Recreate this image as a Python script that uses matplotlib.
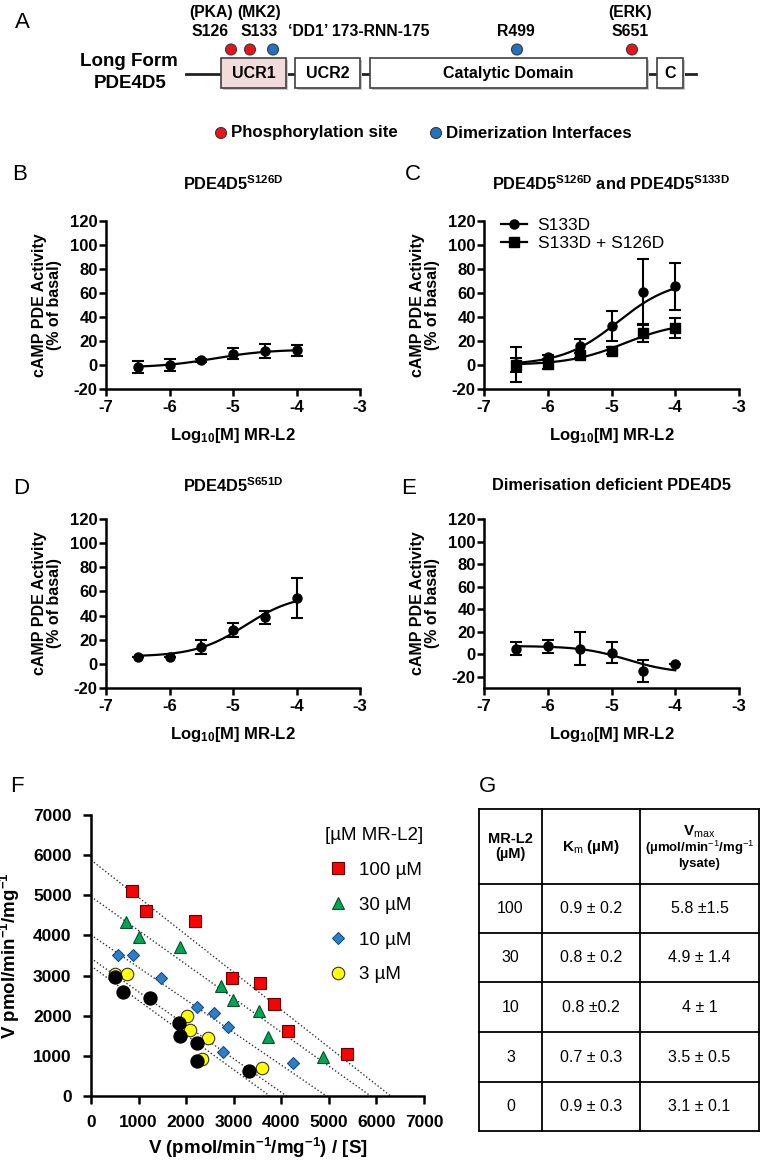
import numpy as np
import matplotlib
matplotlib.use('Agg')
import matplotlib.pyplot as plt
from matplotlib.patches import Rectangle, Circle
from matplotlib.lines import Line2D

plt.rcParams['font.family'] = ['Liberation Sans', 'DejaVu Sans']
plt.rcParams['mathtext.fontset'] = 'custom'
plt.rcParams['mathtext.rm'] = 'Liberation Sans'
plt.rcParams['mathtext.bf'] = 'Liberation Sans:bold'
plt.rcParams['mathtext.it'] = 'Liberation Sans:italic'
plt.rcParams['axes.unicode_minus'] = False

# ---------------- data ----------------
# Panel A (schematic)
domain_names = ['UCR1', 'UCR2', 'Catalytic Domain', 'C']
site_labels = ['S126', 'S133', '\u2018DD1\u2019 173-RNN-175', 'R499', 'S651']
kinase_labels = ['(PKA)', '(MK2)', '', '', '(ERK)']
site_types = ['phos', 'phos', 'dimer', 'dimer', 'phos']

# Panels B-E (dose response)
log_conc = [-6.5, -6.0, -5.5, -5.0, -4.5, -4.0]
b_mean = [-1.7, 0.0, 3.9, 9.4, 11.6, 12.2]
b_err = [4.8, 4.8, 1.0, 4.8, 5.5, 4.8]
b_fit = dict(start=-2.2, end=13.0, logec50=-5.3, hill=1.0)

c1_mean = [0.5, 6.5, 16.0, 32.5, 61.0, 65.5]
c1_err = [14.5, 2.0, 6.0, 12.5, 27.0, 19.5]
c1_fit = dict(start=0.0, end=72.0, logec50=-4.9, hill=1.0)
c2_mean = [0.0, 1.0, 8.0, 12.0, 26.5, 31.0]
c2_err = [6.0, 4.0, 2.0, 3.0, 7.0, 8.5]
c2_fit = dict(start=0.0, end=36.0, logec50=-4.8, hill=1.0)

d_mean = [6.0, 5.5, 14.0, 28.0, 38.5, 54.5]
d_err = [0.0, 0.0, 5.5, 6.0, 5.5, 16.5]
d_fit = dict(start=6.0, end=58.0, logec50=-4.8, hill=1.1)

e_mean = [5.0, 7.0, 5.0, 1.5, -14.8, -9.0]
e_err = [6.0, 6.0, 15.0, 9.0, 10.0, 0.0]
e_fit = dict(start=7.3, end=-17.0, logec50=-4.75, hill=1.2)

# Panel F (Eadie-Hofstee)
f_labels = ['100 \u00b5M', '30 \u00b5M', '10 \u00b5M', '3 \u00b5M', '0']
f_x = [
    [860, 1154, 2189, 2972, 3552, 3846, 4147, 5371],
    [727, 1000, 1874, 2741, 2979, 3538, 3713, 4881],
    [573, 881, 1476, 2224, 2594, 2888, 2783, 4238],
    [510, 755, 2028, 2084, 2462, 2329, 3587],
    [497, 664, 1231, 1853, 1881, 2224, 2238, 3329],
]
f_y = [
    [5116, 4610, 4360, 2948, 2824, 2292, 1620, 1047],
    [4344, 3970, 3721, 2741, 2392, 2118, 1478, 980],
    [3513, 3505, 2948, 2209, 2060, 1728, 1105, 831],
    [3040, 3032, 1993, 1645, 1453, 914, 689],
    [2957, 2583, 2434, 1827, 1495, 1312, 872, 631],
]
f_yint = [5880, 4967, 4012, 3430, 3239]
f_xint = [6300, 5880, 4950, 4110, 3760]

# Panel G (table)
g_mrl2 = ['100', '30', '10', '3', '0']
g_km = ['0.9 \u00b1 0.2', '0.8 \u00b1 0.2', '0.8 \u00b10.2', '0.7 \u00b1 0.3', '0.9 \u00b1 0.3']
g_vmax = ['5.8 \u00b11.5', '4.9 \u00b1 1.4', '4 \u00b1 1', '3.5 \u00b1 0.5', '3.1 \u00b1 0.1']

# ---------------- figure ----------------
W, H = 762, 1166
fig = plt.figure(figsize=(W / 100, H / 100), dpi=100)
ov = fig.add_axes([0, 0, 1, 1])
ov.set_xlim(0, W)
ov.set_ylim(H, 0)
ov.axis('off')
ov.patch.set_alpha(0)


def rect_px(x0, y0, x1, y1):
    return [x0 / W, 1 - y1 / H, (x1 - x0) / W, (y1 - y0) / H]


def four_pl(x, p):
    x = np.asarray(x, dtype=float)
    return p['start'] + (p['end'] - p['start']) / (1 + 10 ** ((p['logec50'] - x) * p['hill']))


# ---------------- panel A ----------------
ov.text(22, 22, 'A', fontsize=16, ha='center', va='center')
ov.text(129, 62, 'Long Form', fontsize=13.5, fontweight='bold', ha='center', va='center')
ov.text(130, 84, 'PDE4D5', fontsize=13.5, fontweight='bold', ha='center', va='center')
ov.plot([186, 696], [73.5, 73.5], color='#222222', lw=2, zorder=2)
box_x = [(221, 286), (295, 360), (370, 647), (657, 683)]
box_fc = ['#f2dcdb', 'white', 'white', 'white']
for (x0, x1), name, fc in zip(box_x, domain_names, box_fc):
    ov.add_patch(Rectangle((x0 + 2, 60), x1 - x0, 30, fc='#c8c8c8', ec='none', zorder=2))
    ov.add_patch(Rectangle((x0, 58), x1 - x0, 30, fc=fc, ec='#404040', lw=1.2, zorder=3))
    ov.text((x0 + x1) / 2, 73.5, name, fontsize=11.5, fontweight='bold', ha='center', va='center', zorder=4)

dot_x = [231, 250, 273, 517, 632]
label_x = [210, 259, 359, 516, 630]
kin_x = [211, 259, 0, 0, 630]
colors_site = {'phos': '#e8141a', 'dimer': '#1f73c0'}
for dx, t in zip(dot_x, site_types):
    ov.add_patch(Circle((dx, 49.5), 5.5, fc=colors_site[t], ec='#3a3a3a', lw=0.8, zorder=3))
for lx, lab in zip(label_x, site_labels):
    ov.text(lx, 31, lab, fontsize=11.3, fontweight='bold', ha='center', va='center')
for kx, lab in zip(kin_x, kinase_labels):
    if lab:
        ov.text(kx, 13, lab, fontsize=11.3, fontweight='bold', ha='center', va='center')
ov.add_patch(Circle((221, 133), 5.5, fc=colors_site['phos'], ec='#3a3a3a', lw=0.8))
ov.text(231, 133, 'Phosphorylation site', fontsize=12.2, fontweight='bold', ha='left', va='center')
ov.add_patch(Circle((436, 133), 5.5, fc=colors_site['dimer'], ec='#3a3a3a', lw=0.8))
ov.text(446, 133, 'Dimerization Interfaces', fontsize=12.2, fontweight='bold', ha='left', va='center')


# ---------------- panels B-E ----------------
def dose_axes(x0, x1, y0, y1, ymin):
    ax = fig.add_axes(rect_px(x0, y0, x1, y1))
    ax.set_xlim(-7, -3)
    ax.set_ylim(ymin, 120)
    ax.set_xticks([-7, -6, -5, -4, -3])
    ax.set_yticks(range(-20, 121, 20))
    for s in ['top', 'right']:
        ax.spines[s].set_visible(False)
    for s in ['left', 'bottom']:
        ax.spines[s].set_linewidth(1.8)
    ax.tick_params(axis='both', direction='out', length=5, width=1.8, labelsize=12)
    ax.tick_params(axis='x', pad=3)
    ax.tick_params(axis='y', pad=1)
    for lab in ax.get_xticklabels() + ax.get_yticklabels():
        lab.set_fontweight('bold')
    ax.set_xlabel(r'Log$_{\mathbf{10}}$[M] MR-L2', fontsize=12, fontweight='bold', labelpad=8)
    ax.set_ylabel('cAMP PDE Activity\n(% of basal)', fontsize=11.5, fontweight='bold',
                  linespacing=0.95, labelpad=6)
    return ax


xs = np.linspace(-6.5, -4.0, 200)
eb_kw = dict(color='k', ms=6.5, capsize=4, elinewidth=1.5, capthick=1.5, lw=0)

axB = dose_axes(106, 360, 221, 389, -20)
axB.errorbar(log_conc, b_mean, yerr=b_err, fmt='o', **eb_kw)
axB.plot(xs, four_pl(xs, b_fit), color='k', lw=1.6)

axC = dose_axes(484, 739, 221, 389, -20)
axC.errorbar(log_conc, c1_mean, yerr=c1_err, fmt='o', **eb_kw)
axC.plot(xs, four_pl(xs, c1_fit), color='k', lw=1.6)
axC.errorbar(log_conc, c2_mean, yerr=c2_err, fmt='s', **eb_kw)
axC.plot(xs, four_pl(xs, c2_fit), color='k', lw=1.6)
hC = [Line2D([], [], color='k', lw=1.6, marker='o', ms=6.5),
      Line2D([], [], color='k', lw=1.6, marker='s', ms=6.5)]
axC.legend(hC, ['S133D', 'S133D + S126D'], loc='upper left', bbox_to_anchor=(0.04, 1.06),
           frameon=False, fontsize=12.5, handlelength=1.5, handletextpad=0.6,
           labelspacing=0.15, borderaxespad=0)

axD = dose_axes(106, 360, 519, 688, -20)
axD.errorbar(log_conc, d_mean, yerr=d_err, fmt='o', **eb_kw)
axD.plot(xs, four_pl(xs, d_fit), color='k', lw=1.6)

axE = dose_axes(484, 739, 519, 688, -30)
axE.errorbar(log_conc, e_mean, yerr=e_err, fmt='o', **eb_kw)
axE.plot(xs, four_pl(xs, e_fit), color='k', lw=1.6)

# panel letters / titles
ov.text(20, 175, 'B', fontsize=16, ha='center', va='center')
ov.text(413, 175, 'C', fontsize=16, ha='center', va='center')
ov.text(21, 488, 'D', fontsize=16, ha='center', va='center')
ov.text(409, 488, 'E', fontsize=16, ha='center', va='center')
ov.text(233, 184, r'PDE4D5$^{\mathbf{S126D}}$', fontsize=11.8, fontweight='bold', ha='center', va='center')
ov.text(611, 184, r'PDE4D5$^{\mathbf{S126D}}$ and PDE4D5$^{\mathbf{S133D}}$', fontsize=11.8,
        fontweight='bold', ha='center', va='center')
ov.text(233, 486, r'PDE4D5$^{\mathbf{S651D}}$', fontsize=11.8, fontweight='bold', ha='center', va='center')
ov.text(611, 486, 'Dimerisation deficient PDE4D5', fontsize=11.8, fontweight='bold',
        ha='center', va='center')

# ---------------- panel F ----------------
axF = fig.add_axes(rect_px(91, 815, 424, 1096))
axF.set_xlim(0, 7000)
axF.set_ylim(0, 7000)
axF.set_xticks(range(0, 7001, 1000))
axF.set_yticks(range(0, 7001, 1000))
for s in ['top', 'right']:
    axF.spines[s].set_visible(False)
for s in ['left', 'bottom']:
    axF.spines[s].set_linewidth(1.8)
axF.tick_params(axis='both', direction='out', length=6, width=1.8, labelsize=12.5, pad=8)
for lab in axF.get_xticklabels() + axF.get_yticklabels():
    lab.set_fontweight('bold')
axF.set_xlabel(r'V (pmol/min$^{\mathbf{-1}}$/mg$^{\mathbf{-1}}$) / [S]', fontsize=13.5,
               fontweight='bold', labelpad=4)
axF.set_ylabel(r'V pmol/min$^{\mathbf{-1}}$/mg$^{\mathbf{-1}}$', fontsize=13.5,
               fontweight='bold', labelpad=8)

for yi, xi in zip(f_yint, f_xint):
    axF.plot([0, xi], [yi, 0], color='#333333', lw=1.0, linestyle=(0, (1, 1.6)), zorder=1)

f_style = [
    dict(marker='s', ms=9, mfc='#ff0000', mec='#600000'),
    dict(marker='^', ms=9, mfc='#00a651', mec='#0b4d2a'),
    dict(marker='D', ms=6.5, mfc='#2a7fc9', mec='#1a4f80'),
    dict(marker='o', ms=9, mfc='#ffff00', mec='#333333'),
    dict(marker='o', ms=9.5, mfc='#000000', mec='#000000'),
]
handles = []
for xv, yv, st, lab in zip(f_x, f_y, f_style, f_labels):
    h, = axF.plot(xv, yv, lw=0, mew=0.8, zorder=3, label=lab, **st)
    handles.append(h)
axF.legend(handles[:4], f_labels[:4], title='[\u00b5M MR-L2]', loc='upper left',
           bbox_to_anchor=(0.68, 0.985), frameon=False, fontsize=13.5, title_fontsize=13.5,
           alignment='left', handletextpad=0.4, labelspacing=0.95, borderaxespad=0,
           handlelength=1.4)

ov.text(17, 786, 'F', fontsize=16, ha='center', va='center')

# ---------------- panel G ----------------
ov.text(488, 786, 'G', fontsize=16, ha='center', va='center')
col_x = [479, 542, 640, 759]
row_y = [809, 884, 933, 982, 1032, 1082, 1131]
for cx in col_x:
    ov.plot([cx, cx], [row_y[0], row_y[-1]], color='k', lw=1.3)
for ry in row_y:
    ov.plot([col_x[0], col_x[-1]], [ry, ry], color='k', lw=1.3)
hy = (row_y[0] + row_y[1]) / 2
ov.text((col_x[0] + col_x[1]) / 2, hy, 'MR-L2\n(\u00b5M)', fontsize=10.5, fontweight='bold',
        ha='center', va='center', linespacing=1.15)
ov.text((col_x[1] + col_x[2]) / 2, hy, 'K$_{\\mathrm{m}}$ (\u00b5M)', fontsize=11,
        fontweight='bold', ha='center', va='center')
ov.text((col_x[2] + col_x[3]) / 2, hy - 15, r'V$_{\mathrm{max}}$', fontsize=11,
        fontweight='bold', ha='center', va='center')
ov.text((col_x[2] + col_x[3]) / 2, hy + 8, '(\u00b5mol/min$^{-1}$/mg$^{-1}$\nlysate)', fontsize=9.5,
        fontweight='bold', ha='center', va='center', linespacing=1.1)
for i in range(5):
    cy = (row_y[i + 1] + row_y[i + 2]) / 2
    ov.text((col_x[0] + col_x[1]) / 2, cy, g_mrl2[i], fontsize=11.5, ha='center', va='center')
    ov.text((col_x[1] + col_x[2]) / 2, cy, g_km[i], fontsize=11.5, ha='center', va='center')
    ov.text((col_x[2] + col_x[3]) / 2, cy, g_vmax[i], fontsize=11.5, ha='center', va='center')

fig.savefig('out.png', dpi=100)
